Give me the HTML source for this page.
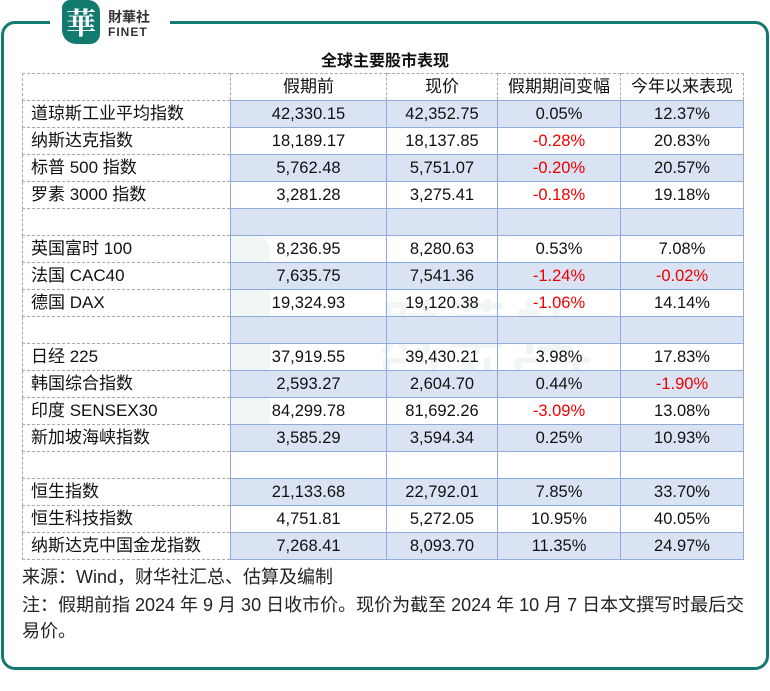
<!DOCTYPE html>
<html><head><meta charset="utf-8">
<style>
body{margin:0;width:770px;height:691px;background:#fff;position:relative;overflow:hidden;font-family:"Liberation Sans","Noto Sans CJK SC",sans-serif;color:#111}
.frame{position:absolute;left:1px;top:21px;width:762px;height:643px;border:3px solid #137a70;border-radius:14px}
.gap{position:absolute;left:50px;top:15px;width:120px;height:12px;background:#fff}
.logo{position:absolute;left:62px;top:0;width:38px;height:44px;background:#137a70;border-radius:8px 12px 10px 14px;color:#fff;font:bold 30px "Noto Serif CJK SC",serif;text-align:center;line-height:42px}
.lt{position:absolute;left:108px;top:10px;font:bold 14px "Noto Sans CJK SC",sans-serif;line-height:14px;color:#333}
.lt2{position:absolute;left:108px;top:25px;font:bold 12px "Liberation Sans",sans-serif;letter-spacing:1px;color:#333}
.wm{position:absolute;left:150px;top:225px;width:120px;height:220px;background:#137a70;opacity:.06;border-radius:30px}
.wm2{position:absolute;left:380px;top:282px;font:bold 58px "Noto Sans CJK SC",sans-serif;color:#137a70;opacity:.06;letter-spacing:10px}
.wm3{position:absolute;left:380px;top:348px;font:bold 48px "Liberation Sans",sans-serif;color:#137a70;opacity:.06;letter-spacing:18px}
.title{position:absolute;left:0;width:770px;top:49px;text-align:center;font:bold 16px "Noto Sans CJK SC",sans-serif;line-height:20px}
table{position:absolute;left:22px;top:73px;border-collapse:collapse;font-size:16.5px}
td{height:26px;padding:0;text-align:center;border:1px solid #8faadc;line-height:18px;vertical-align:middle}
td.n{text-align:left;padding-left:8px;border:1px dashed #aaa;background:#fff;font-size:17px}
tr.h td{border:1px dashed #aaa;height:26px;font-size:17px}
tr.b td:not(.n){background:#dae3f3}
.r{color:#e00}
.foot{position:absolute;left:22px;font-size:18px;line-height:22px;color:#222;white-space:nowrap}
</style></head><body>
<div class="wm"></div><div class="wm2">財華社</div><div class="wm3">FINET</div>
<div class="frame"></div><div class="gap"></div>
<div class="logo">華</div><div class="lt">財華社</div><div class="lt2">FINET</div>
<div class="title">全球主要股市表现</div>
<table>
<colgroup><col style="width:208px"><col style="width:156px"><col style="width:111px"><col style="width:123px"><col style="width:123px"></colgroup>
<tr class="h"><td class="n"></td><td>假期前</td><td>现价</td><td>假期期间变幅</td><td>今年以来表现</td></tr>
<tr class="b"><td class="n">道琼斯工业平均指数</td><td>42,330.15</td><td>42,352.75</td><td>0.05%</td><td>12.37%</td></tr>
<tr><td class="n">纳斯达克指数</td><td>18,189.17</td><td>18,137.85</td><td class="r">-0.28%</td><td>20.83%</td></tr>
<tr class="b"><td class="n">标普 500 指数</td><td>5,762.48</td><td>5,751.07</td><td class="r">-0.20%</td><td>20.57%</td></tr>
<tr><td class="n">罗素 3000 指数</td><td>3,281.28</td><td>3,275.41</td><td class="r">-0.18%</td><td>19.18%</td></tr>
<tr class="b"><td class="n"></td><td></td><td></td><td></td><td></td></tr>
<tr><td class="n">英国富时 100</td><td>8,236.95</td><td>8,280.63</td><td>0.53%</td><td>7.08%</td></tr>
<tr class="b"><td class="n">法国 CAC40</td><td>7,635.75</td><td>7,541.36</td><td class="r">-1.24%</td><td class="r">-0.02%</td></tr>
<tr><td class="n">德国 DAX</td><td>19,324.93</td><td>19,120.38</td><td class="r">-1.06%</td><td>14.14%</td></tr>
<tr class="b"><td class="n"></td><td></td><td></td><td></td><td></td></tr>
<tr><td class="n">日经 225</td><td>37,919.55</td><td>39,430.21</td><td>3.98%</td><td>17.83%</td></tr>
<tr class="b"><td class="n">韩国综合指数</td><td>2,593.27</td><td>2,604.70</td><td>0.44%</td><td class="r">-1.90%</td></tr>
<tr><td class="n">印度 SENSEX30</td><td>84,299.78</td><td>81,692.26</td><td class="r">-3.09%</td><td>13.08%</td></tr>
<tr class="b"><td class="n">新加坡海峡指数</td><td>3,585.29</td><td>3,594.34</td><td>0.25%</td><td>10.93%</td></tr>
<tr><td class="n"></td><td></td><td></td><td></td><td></td></tr>
<tr class="b"><td class="n">恒生指数</td><td>21,133.68</td><td>22,792.01</td><td>7.85%</td><td>33.70%</td></tr>
<tr><td class="n">恒生科技指数</td><td>4,751.81</td><td>5,272.05</td><td>10.95%</td><td>40.05%</td></tr>
<tr class="b"><td class="n">纳斯达克中国金龙指数</td><td>7,268.41</td><td>8,093.70</td><td>11.35%</td><td>24.97%</td></tr>
</table>
<div class="foot" style="top:566px">来源：Wind，财华社汇总、估算及编制</div>
<div class="foot" style="top:594px">注：假期前指 2024 年 9 月 30 日收市价。现价为截至 2024 年 10 月 7 日本文撰写时最后交</div>
<div class="foot" style="top:620px">易价。</div>
</body></html>
